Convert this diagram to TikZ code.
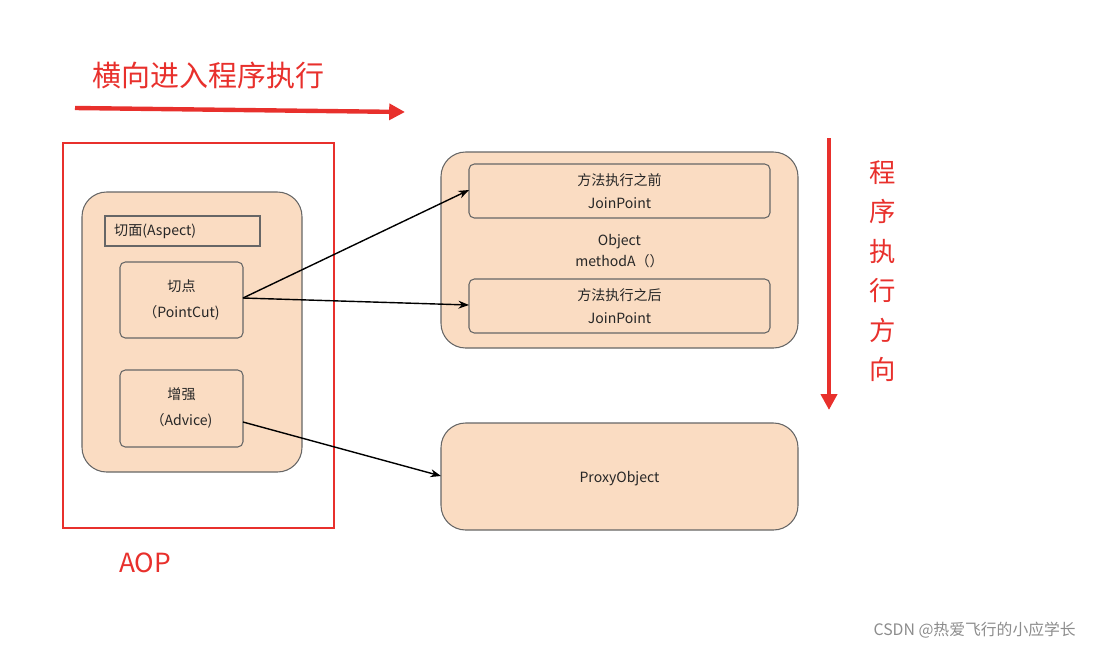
\documentclass[tikz,border=0pt]{standalone}
\usepackage{fontspec}
\setmainfont{Noto Sans CJK SC}
\usetikzlibrary{arrows.meta}
\definecolor{peach}{HTML}{FADCC2}
\definecolor{aopred}{HTML}{E8302C}
\begin{document}
\begin{tikzpicture}[x=0.02cm,y=-0.02cm,
		box/.style={draw=black!60,fill=peach,rounded corners=3pt,line width=0.6pt},
		big/.style={draw=black!60,fill=peach,rounded corners=14pt,line width=0.6pt},
		lbl/.style={font=\fontsize{8}{10}\selectfont,align=center,text=black!85},
		redtxt/.style={text=aopred,font=\fontsize{15}{18}\selectfont},
		link/.style={-{Stealth[length=6pt]},line width=0.8pt}]
		\useasboundingbox (0,0) rectangle (1100,650);

		% heading and flow arrows
		\node[redtxt,anchor=west,font=\fontsize{16.5}{18}\selectfont] (htxt) at (86,75) {横向进入程序执行};
		\coordinate (hs) at (75,108);
		\coordinate (he) at (405,112);
		\draw[aopred,line width=2.5pt,-{Triangle[length=9pt,width=9pt]}] (hs) -- (he);
		\coordinate (vs) at (829,138);
		\coordinate (ve) at (829,410);
		\draw[aopred,line width=2.5pt,-{Triangle[length=9pt,width=9pt]}] (vs) -- (ve);
		\node[redtxt,align=center,font=\fontsize{15}{22.5}\selectfont] (vtxt) at (883,271) {程\\序\\执\\行\\方\\向};

		% AOP frame
		\draw[aopred,line width=1.4pt] (63,143) rectangle (334,528);
		\node[redtxt] (aop) at (145,563) {AOP};

		% aspect
		\draw[big] (82,192) rectangle (302,472);
		\draw[draw=black!60,line width=0.6pt] (105,216) rectangle (260,246);
		\node[lbl,anchor=west] (aspect) at (108,231) {切面(Aspect)};
		\draw[box] (120,262) rectangle (243,338);
		\node[lbl,font=\fontsize{8}{15}\selectfont] (cut) at (181.5,300) {切点\\（PointCut)};
		\draw[box] (120,370) rectangle (243,447);
		\node[lbl,font=\fontsize{8}{15}\selectfont] (adv) at (181.5,408) {增强\\（Advice)};

		% target object
		\draw[big] (441,152) rectangle (798,348);
		\draw[box] (469,164) rectangle (770,218);
		\node[lbl,font=\fontsize{8}{13}\selectfont] (before) at (619.5,191) {方法执行之前\\JoinPoint};
		\node[lbl,font=\fontsize{8}{12}\selectfont] (obj) at (619.5,251) {Object\\methodA（）};
		\draw[box] (469,279) rectangle (770,333);
		\node[lbl,font=\fontsize{8}{13}\selectfont] (after) at (619.5,306) {方法执行之后\\JoinPoint};

		% proxy
		\draw[big] (441,423) rectangle (798,530);
		\node[lbl] (proxy) at (619.5,479) {ProxyObject};

		% links
		\coordinate (cutR) at (243,298);
		\coordinate (advR) at (243,422);
		\coordinate (beforeL) at (469,190);
		\coordinate (afterL) at (469,305);
		\coordinate (proxyL) at (441,476);
		\draw[link] (cutR) -- (beforeL);
		\draw[link] (cutR) -- (afterL);
		\draw[link] (advR) -- (proxyL);

		\node[text=black!45,font=\fontsize{9}{11}\selectfont,anchor=east] (mark) at (1082,630) {CSDN @热爱飞行的小应学长};
\end{tikzpicture}
\end{document}
